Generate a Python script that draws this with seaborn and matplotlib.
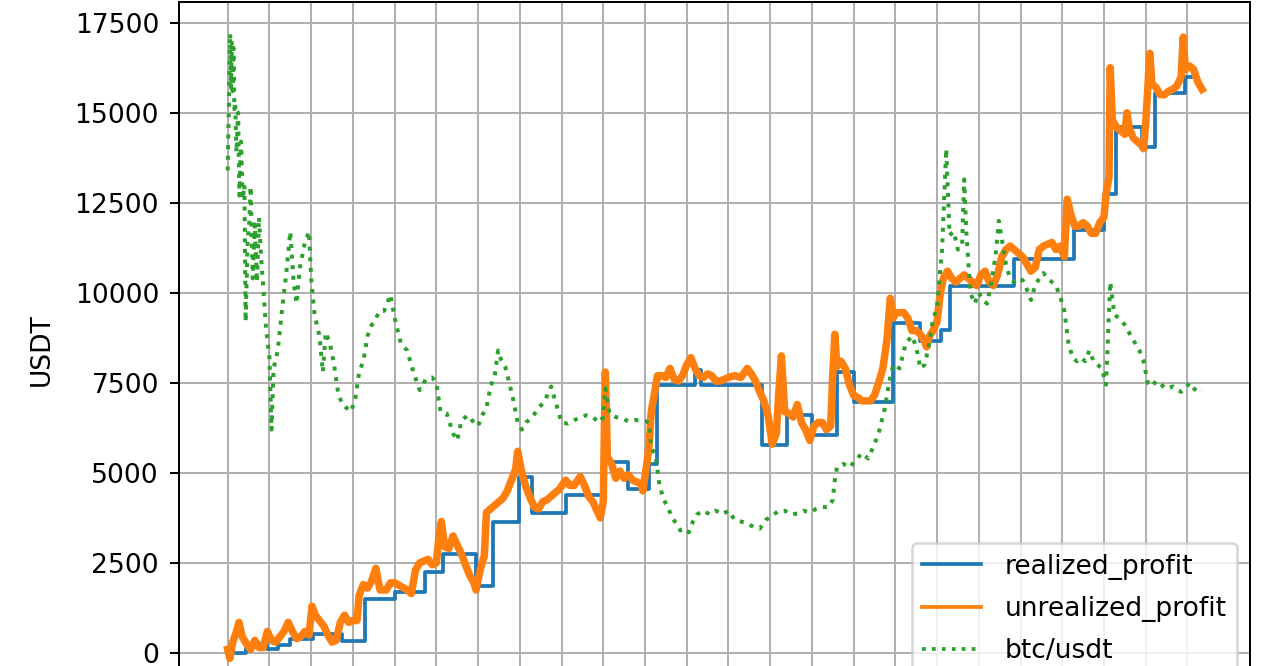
import matplotlib
matplotlib.use("Agg")
import matplotlib.pyplot as plt
import seaborn as sbn
import pandas as pd

# x positions are in grid units (one vertical grid line per unit)
realized_t = [0.0, 0.45, 0.95, 1.2, 1.5, 2.05, 2.75, 3.3, 4.0, 4.72, 5.15, 5.95, 6.35, 6.98,
              7.3, 8.1, 9.05, 9.6, 10.1, 10.3, 11.2, 11.35, 12.8, 13.4, 14.0, 14.6, 15.0,
              15.95, 16.6, 17.1, 17.3, 18.84, 20.28, 21.0, 21.28, 21.9, 22.22, 22.95, 23.24]
realized_usdt = [0, 250, 120, 220, 400, 530, 320, 1500, 1700, 2250, 2750, 1850, 3650, 4890,
                 3900, 4400, 5300, 4550, 5250, 7450, 7850, 7450, 5770, 6600, 6050, 7800, 6970,
                 9150, 8650, 8980, 10200, 10950, 11740, 12750, 14600, 14050, 15550, 16000, 16000]

unrealized_t = [0.0, 0.05, 0.12, 0.2, 0.27, 0.35, 0.45, 0.55, 0.65, 0.75, 0.85, 0.95, 1.05,
                1.15, 1.25, 1.35, 1.45, 1.55, 1.65, 1.75, 1.85, 1.95, 2.02, 2.1, 2.2, 2.3,
                2.4, 2.5, 2.6, 2.7, 2.8, 2.9, 3.0, 3.1, 3.15, 3.25, 3.35, 3.45, 3.55, 3.65,
                3.8, 3.9, 4.0, 4.15, 4.3, 4.4, 4.5, 4.6, 4.7, 4.8, 4.9, 5.0, 5.07, 5.12, 5.2,
                5.3, 5.4, 5.5, 5.6, 5.7, 5.8, 5.9, 5.95, 6.05, 6.15, 6.2, 6.3, 6.4, 6.5, 6.6,
                6.7, 6.8, 6.9, 6.95, 7.05, 7.15, 7.25, 7.35, 7.45, 7.55, 7.65, 7.75, 7.85,
                7.95, 8.1, 8.2, 8.3, 8.45, 8.55, 8.65, 8.75, 8.85, 8.93, 9.0, 9.05, 9.1, 9.2,
                9.3, 9.4, 9.5, 9.6, 9.7, 9.8, 9.9, 9.95, 10.05, 10.1, 10.15, 10.22, 10.3,
                10.4, 10.5, 10.6, 10.7, 10.8, 10.9, 11.0, 11.1, 11.2, 11.3, 11.4, 11.5, 11.6,
                11.7, 11.8, 11.9, 12.0, 12.15, 12.3, 12.45, 12.55, 12.65, 12.75, 12.85, 12.95,
                13.05, 13.15, 13.2, 13.27, 13.35, 13.45, 13.55, 13.65, 13.75, 13.85, 13.95,
                14.05, 14.15, 14.25, 14.35, 14.45, 14.5, 14.55, 14.6, 14.7, 14.8, 14.9, 15.0,
                15.1, 15.2, 15.3, 15.4, 15.5, 15.6, 15.7, 15.8, 15.88, 15.95, 16.0, 16.1,
                16.2, 16.3, 16.4, 16.5, 16.6, 16.7, 16.75, 16.8, 16.9, 17.0, 17.08, 17.15,
                17.25, 17.35, 17.45, 17.55, 17.65, 17.75, 17.85, 17.95, 18.05, 18.15, 18.25,
                18.35, 18.45, 18.55, 18.65, 18.75, 18.85, 18.95, 19.05, 19.15, 19.25, 19.35,
                19.45, 19.55, 19.65, 19.75, 19.85, 19.95, 20.05, 20.12, 20.2, 20.3, 20.4,
                20.5, 20.6, 20.7, 20.8, 20.9, 21.0, 21.05, 21.12, 21.15, 21.2, 21.3, 21.4,
                21.5, 21.55, 21.6, 21.7, 21.8, 21.9, 21.95, 22.0, 22.06, 22.1, 22.15, 22.25,
                22.35, 22.45, 22.55, 22.65, 22.75, 22.85, 22.9, 22.95, 23.05, 23.15, 23.25,
                23.35]
unrealized_usdt = [100, -150, 300, 560, 850, 450, 250, 100, 350, 150, 150, 600, 350,
                   300, 450, 600, 850, 600, 400, 450, 600, 500, 1300, 1050, 900, 750,
                   500, 300, 350, 850, 1050, 850, 900, 900, 1600, 1900, 1800, 2000, 2350, 1750,
                   1750, 1950, 1950, 1850, 1750, 1650, 2300, 2500, 2550, 2600, 2450, 2500, 3300, 3650, 2950,
                   2900, 3250, 3000, 2750, 2450, 2150, 1950, 1750, 2300, 2700, 3900, 4000, 4100, 4200, 4300,
                   4500, 4800, 5100, 5600, 5000, 4600, 4300, 4050, 4000, 4200, 4250, 4350, 4450,
                   4550, 4800, 4650, 4650, 4900, 4650, 4350, 4200, 3950, 3750, 4200, 7800, 5450, 5250,
                   4850, 5050, 4850, 4950, 4800, 4750, 4700, 4500, 5300, 5800, 6700, 7150, 7700,
                   7700, 7650, 7900, 7600, 7550, 7700, 8000, 8200, 7900, 7700, 7650, 7750, 7700,
                   7550, 7550, 7600, 7650, 7700, 7650, 7900, 7750, 7550, 7250, 7000, 6600,
                   5800, 6100, 7100, 8250, 6700, 6650, 6550, 6900, 6400, 6200, 5900,
                   6300, 6400, 6400, 6200, 6300, 7700, 8850, 7950, 8100, 7900, 7450, 7150,
                   7100, 7000, 7000, 7000, 7150, 7500, 7900, 8700, 9850, 9300, 9450, 9450,
                   9450, 9300, 8950, 8950, 8850, 8650, 8500, 8750, 8950, 9200, 10000, 10400,
                   10600, 10400, 10300, 10400, 10500, 10400, 10300, 10200, 10500, 10600, 10300,
                   10200, 10500, 11000, 11200, 11300, 11200, 11100, 11000, 10800, 10600, 10700,
                   11200, 11300, 11350, 11400, 11200, 11300, 11000, 12600, 12200, 11850, 11850,
                   11950, 11850, 11650, 11650, 11950, 12100, 12750, 13200, 16250, 14800, 14600, 14500,
                   14400, 15000, 14600, 14300, 14200, 14100, 14000, 14700, 15900, 16650, 15800, 15700,
                   15500, 15500, 15600, 15650, 15750, 16000, 17100, 16200, 16300, 16200, 15850,
                   15650]

btc_t = [0.0, 0.03, 0.06, 0.08, 0.1, 0.12, 0.14, 0.16, 0.18, 0.21, 0.25, 0.28, 0.32, 0.36,
         0.4, 0.43, 0.48, 0.52, 0.55, 0.6, 0.65, 0.7, 0.75,
         0.8, 0.85, 0.92, 1.0, 1.05, 1.1, 1.2, 1.3, 1.4, 1.5, 1.58, 1.65, 1.73, 1.85, 1.95,
         2.0, 2.08, 2.2, 2.28, 2.35, 2.45, 2.55, 2.65, 2.75, 2.85, 2.95, 3.05, 3.15, 3.25,
         3.35, 3.45, 3.55, 3.65, 3.75, 3.9, 4.0, 4.15, 4.3, 4.45, 4.6, 4.75, 4.9, 5.0, 5.1,
         5.25, 5.4, 5.5, 5.6, 5.75, 5.9, 6.0, 6.1, 6.2, 6.3, 6.4, 6.48, 6.55, 6.65, 6.75,
         6.85, 6.95, 7.05, 7.15, 7.3, 7.45, 7.6, 7.75, 7.85, 8.0, 8.15, 8.3, 8.45, 8.6, 8.75,
         8.9, 9.0, 9.05, 9.15, 9.3, 9.45, 9.6, 9.75, 9.9, 10.0, 10.1, 10.15, 10.25, 10.35,
         10.45, 10.55, 10.65, 10.75, 10.85, 10.95, 11.05, 11.15, 11.25, 11.4, 11.55, 11.7,
         11.85, 12.0, 12.15, 12.3, 12.45, 12.6, 12.75, 12.9, 13.05, 13.2, 13.35, 13.5, 13.65,
         13.8, 13.95, 14.1, 14.25, 14.4, 14.5, 14.55, 14.6, 14.75, 14.9, 15.05, 15.2, 15.35,
         15.5, 15.6, 15.75, 15.85, 15.95, 16.0, 16.1, 16.25, 16.4, 16.5, 16.6, 16.7, 16.8,
         16.9, 17.0, 17.05, 17.12, 17.22, 17.3, 17.4, 17.5, 17.6, 17.65, 17.7, 17.8, 17.9,
         18.0, 18.1, 18.2, 18.3, 18.4, 18.48, 18.55, 18.65, 18.75, 18.85, 18.95, 19.05, 19.15,
         19.25, 19.35, 19.45, 19.55, 19.65, 19.75, 19.85, 19.95, 20.05, 20.15, 20.25, 20.35,
         20.45, 20.55, 20.65, 20.75, 20.85, 20.95, 21.05, 21.15, 21.25, 21.35, 21.45, 21.55,
         21.65, 21.75, 21.85, 21.95, 22.05, 22.15, 22.25, 22.35, 22.45, 22.55, 22.65, 22.75,
         22.85, 22.95, 23.05, 23.15, 23.25, 23.35]
btc_usdt = [13400, 15300, 17200, 15700, 17000, 15600, 16800, 15100, 15300, 13900, 15000, 12700, 14200, 12600,
            13000, 9200, 11500, 12000, 12950, 10400, 11900, 10300, 12100,
            11000, 10200, 9000, 8200, 6200, 7900, 8400, 9500, 10500, 11700, 10300, 9700, 10700, 11400, 11700,
            10400, 9400, 8800, 7800, 8900, 8600, 8000, 7200, 6900, 6800, 6700, 7000, 7800, 8100,
            8800, 9100, 9300, 9500, 9500, 9950, 9300, 8600, 8400, 7800, 7300, 7600, 7650, 7500, 6700,
            6650, 6100, 5900, 6450, 6600, 6400, 6300, 6600, 6800, 7400, 7700, 8400, 8150, 7950, 7500,
            7000, 6400, 6200, 6400, 6550, 6800, 7000, 7400, 7000, 6400, 6370, 6460, 6550, 6600, 6550,
            6400, 6550, 7350, 6650, 6550, 6520, 6430, 6470, 6450, 6440, 6400, 5700, 5500, 4650,
            4250, 4050, 3750, 3600, 3400, 3450, 3350, 3650, 3850, 3950, 3850, 3950,
            3850, 3950, 3700, 3650, 3600, 3500, 3450, 3700, 3800, 3950, 3950, 3850, 3870,
            3950, 3900, 4000, 4050, 4050, 4250, 4800, 5150, 5250, 5150, 5350, 5550, 5400,
            5800, 6100, 6800, 7500, 8000, 8000, 7900, 8600, 8800, 8500, 7900, 8000, 8500,
            9250, 9600, 10300, 11200, 14000, 11600, 11700, 11200, 11300, 13150, 11700, 10000, 9700,
            10000, 9800, 9700, 10300, 11000, 12000, 11500, 10800, 10400, 10300, 10400, 10350, 10100,
            9800, 10200, 10400, 10550, 10400, 10300, 10200, 9900, 9500, 8600, 8200, 8100,
            8200, 8100, 8400, 8100, 8000, 7900, 7450, 10300, 9400, 9300, 9200, 9000,
            8800, 8600, 8400, 8100, 7500, 7400, 7550, 7500, 7350, 7350, 7400, 7300,
            7250, 7350, 7500, 7350, 7250, 7300]

realized = pd.DataFrame({'t': realized_t, 'usdt': realized_usdt})
unrealized = pd.DataFrame({'t': unrealized_t, 'usdt': unrealized_usdt})
btc = pd.DataFrame({'t': btc_t, 'usdt': btc_usdt})

plt.rcParams['font.size'] = 10.6

dpi = 180
fig = plt.figure(figsize=(1280 / dpi, 666 / dpi), dpi=dpi)
# the picture is a crop: the bottom of the axes (and its date labels) lies below the frame
ax = fig.add_axes([179 / 1280, 1 - 698 / 666, 1071 / 1280, 696 / 666])

sbn.lineplot(data=realized, x='t', y='usdt', ax=ax, color='tab:blue',
             drawstyle='steps-post', label='realized_profit', linewidth=1.5)
sbn.lineplot(data=unrealized, x='t', y='usdt', ax=ax, color='tab:orange',
             label='unrealized_profit', linewidth=3.0)
sbn.lineplot(data=btc, x='t', y='usdt', ax=ax, color='tab:green',
             linestyle=':', label='btc/usdt', linewidth=1.6)

ax.set_xlim(-1.167, 24.5)
ax.set_ylim(-1250, 18075)
ax.set_xticks(range(0, 24))
ax.set_xticklabels([])
ax.set_yticks(range(0, 17501, 2500))
ax.tick_params(axis='y', pad=4.5)
ax.set_xlabel('')
ax.set_ylabel('USDT', labelpad=8)
ax.grid(True)

leg = ax.legend(loc='upper right', bbox_to_anchor=(0.9879, 0.2227), borderaxespad=0,
                labelspacing=0.62, handlelength=2.2, handletextpad=0.9)
for line in leg.get_lines():
    line.set_linewidth(1.5)

fig.savefig('out.png', dpi=dpi)
